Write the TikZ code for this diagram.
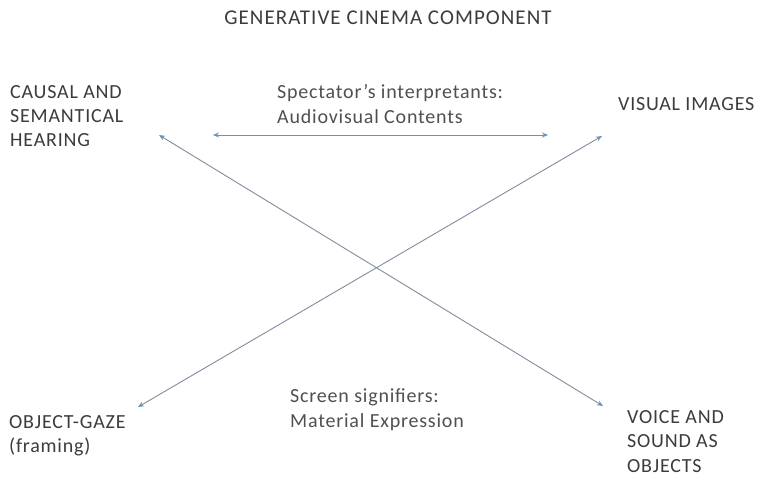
\documentclass[tikz,border=0pt]{standalone}
\usepackage{fontspec}
\setmainfont{Carlito}[LetterSpace=4]
\newfontfamily\titlefont{Carlito}[LetterSpace=5]
\usetikzlibrary{arrows.meta}
\definecolor{txt}{RGB}{60,60,60}
\definecolor{lbl}{RGB}{80,80,80}
\definecolor{conn}{RGB}{130,140,160}
\definecolor{tipc}{RGB}{110,145,185}
\tikzset{
  lab/.style={inner sep=0pt, anchor=base west, align=left, text=txt, font=\fontsize{20}{24}\selectfont},
  lab26/.style={lab, font=\fontsize{20}{24.5}\selectfont},
  midlab/.style={lab, text=lbl, font=\fontsize{20}{24.5}\selectfont},
  link/.style={draw=conn, line width=0.9pt, {Stealth[length=6pt,width=5pt,color=tipc]}-{Stealth[length=6pt,width=5pt,color=tipc]}}
}
\begin{document}
\begin{tikzpicture}[x=1pt,y=-1pt]
\useasboundingbox (0,0) rectangle (761,483);
\fill[white] (0,0) rectangle (761,483);
\node[lab, anchor=base, font=\titlefont\fontsize{21}{24}\selectfont] (title) at (388,24) {GENERATIVE CINEMA COMPONENT};
\node[lab] (hear) at (10,146) {CAUSAL AND\\SEMANTICAL\\HEARING};
\node[midlab] (spec) at (277,123) {Spectator’s interpretants:\\Audiovisual Contents};
\node[lab] (vis) at (618,110) {VISUAL IMAGES};
\node[lab] (gaze) at (9,452) {OBJECT-GAZE\\(framing)};
\node[midlab] (scr) at (290,427) {Screen signifiers:\\Material Expression};
\node[lab26] (voice) at (627,472) {VOICE AND\\SOUND AS\\OBJECTS};
\coordinate (h1) at (213,135);
\coordinate (h2) at (548,135);
\coordinate (a1) at (159,135);
\coordinate (a2) at (603,406);
\coordinate (b1) at (602,136);
\coordinate (b2) at (138,407);
\draw[link] (h1) -- (h2);
\draw[link] (a1) -- (a2);
\draw[link] (b1) -- (b2);
\end{tikzpicture}
\end{document}
